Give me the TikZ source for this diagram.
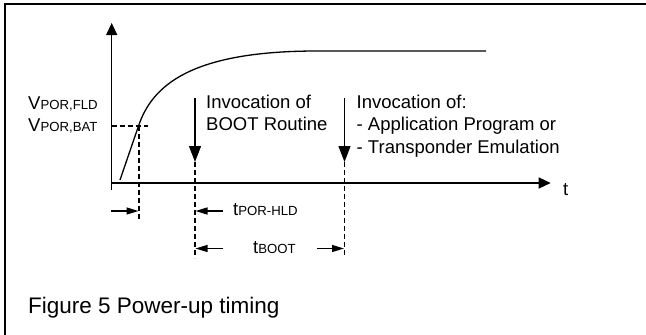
\documentclass[tikz,border=0pt]{standalone}
\usepackage{fontspec}
\setmainfont{Liberation Sans}
\usetikzlibrary{arrows.meta}
\newcommand{\subtxt}[1]{{\fontsize{13.2}{15}\selectfont #1}}
\begin{document}
\begin{tikzpicture}[x=1pt,y=-1pt,
  frameline/.style={line width=2pt},
  axisline/.style={line width=1.3pt,-{Triangle[length=12pt,width=11pt]}},
  plainline/.style={line width=1.3pt},
  dashline/.style={line width=1.3pt,dash pattern=on 5pt off 3pt},
  downarrow/.style={line width=1.3pt,-{Triangle[length=16pt,width=12pt]}},
  dimarrow/.style={line width=1.3pt,-{Triangle[length=12pt,width=7pt]}},
  lbl/.style={inner sep=0pt,anchor=base west,font=\fontsize{18.5}{22.3}\selectfont,align=left},
  caption/.style={inner sep=0pt,anchor=base west,font=\fontsize{22.5}{26}\selectfont}
]
\useasboundingbox (0,0) rectangle (646,335);
\fill[white] (0,0) rectangle (646,335);
% partial frame
\coordinate (fTL) at (5,4);
\coordinate (fTR) at (646,4);
\coordinate (fBL) at (5,335);
\draw[frameline] (fTR) -- (fTL) -- (fBL);

% axes
\coordinate (O) at (111.7,183);
\coordinate (ybot) at (111.7,190);
\coordinate (ytop) at (111.7,23);
\coordinate (xend) at (550.7,183);
\draw[axisline] (ybot) -- (ytop);
\draw[axisline] (O) -- (xend);
\node[lbl] (tlab) at (563,195) {t};

% curve
\coordinate (c0) at (120,180);
\coordinate (c1) at (138.5,126);
\coordinate (c2) at (317,51);
\coordinate (c3) at (486,51);
\draw[plainline] (c0) -- (c1) .. controls (152,86) and (190,51) .. (c2) -- (c3);

% threshold dashed lines
\coordinate (hL) at (111.7,126);
\coordinate (hR) at (148,126);
\coordinate (v1top) at (139,126);
\coordinate (v1bot) at (139,220);
\draw[dashline] (hL) -- (hR);
\draw[dashline] (v1top) -- (v1bot);

% voltage labels
\node[lbl] (vfld) at (28,109) {V\subtxt{POR,FLD}};
\node[lbl] (vbat) at (28,131.7) {V\subtxt{POR,BAT}};

% down arrows
\coordinate (a1top) at (195,98);
\coordinate (a1tip) at (195,162);
\coordinate (a1bot) at (195,258);
\draw[downarrow] (a1top) -- (a1tip);
\draw[dashline] (a1tip) -- (a1bot);
\coordinate (a2top) at (344.5,98);
\coordinate (a2tip) at (344.5,162);
\coordinate (a2bot) at (344.5,256);
\draw[downarrow] (a2top) -- (a2tip);
\draw[dashline] (a2tip) -- (a2bot);

% multi-line labels: base anchor is the baseline of the last line
\node[lbl] (boot) at (206,130.3) {Invocation of\\BOOT Routine};
\node[lbl] (app) at (356.5,153.1) {Invocation of:\\- Application Program or\\- Transponder Emulation};

% timing dimensions
\coordinate (d1s) at (111,211);
\coordinate (d1e) at (138.5,211);
\draw[dimarrow] (d1s) -- (d1e);
\coordinate (d2s) at (223,211);
\coordinate (d2e) at (195.5,211);
\draw[dimarrow] (d2s) -- (d2e);
\node[lbl] (thld) at (233,215) {t\subtxt{POR-HLD}};
\coordinate (d3s) at (223,248.5);
\coordinate (d3e) at (195.5,248.5);
\draw[dimarrow] (d3s) -- (d3e);
\coordinate (d4s) at (317,248.5);
\coordinate (d4e) at (344,248.5);
\draw[dimarrow] (d4s) -- (d4e);
\node[lbl] (tboot) at (253,253) {t\subtxt{BOOT}};

\node[caption] (cap) at (28,313) {Figure 5 Power-up timing};
\end{tikzpicture}
\end{document}
